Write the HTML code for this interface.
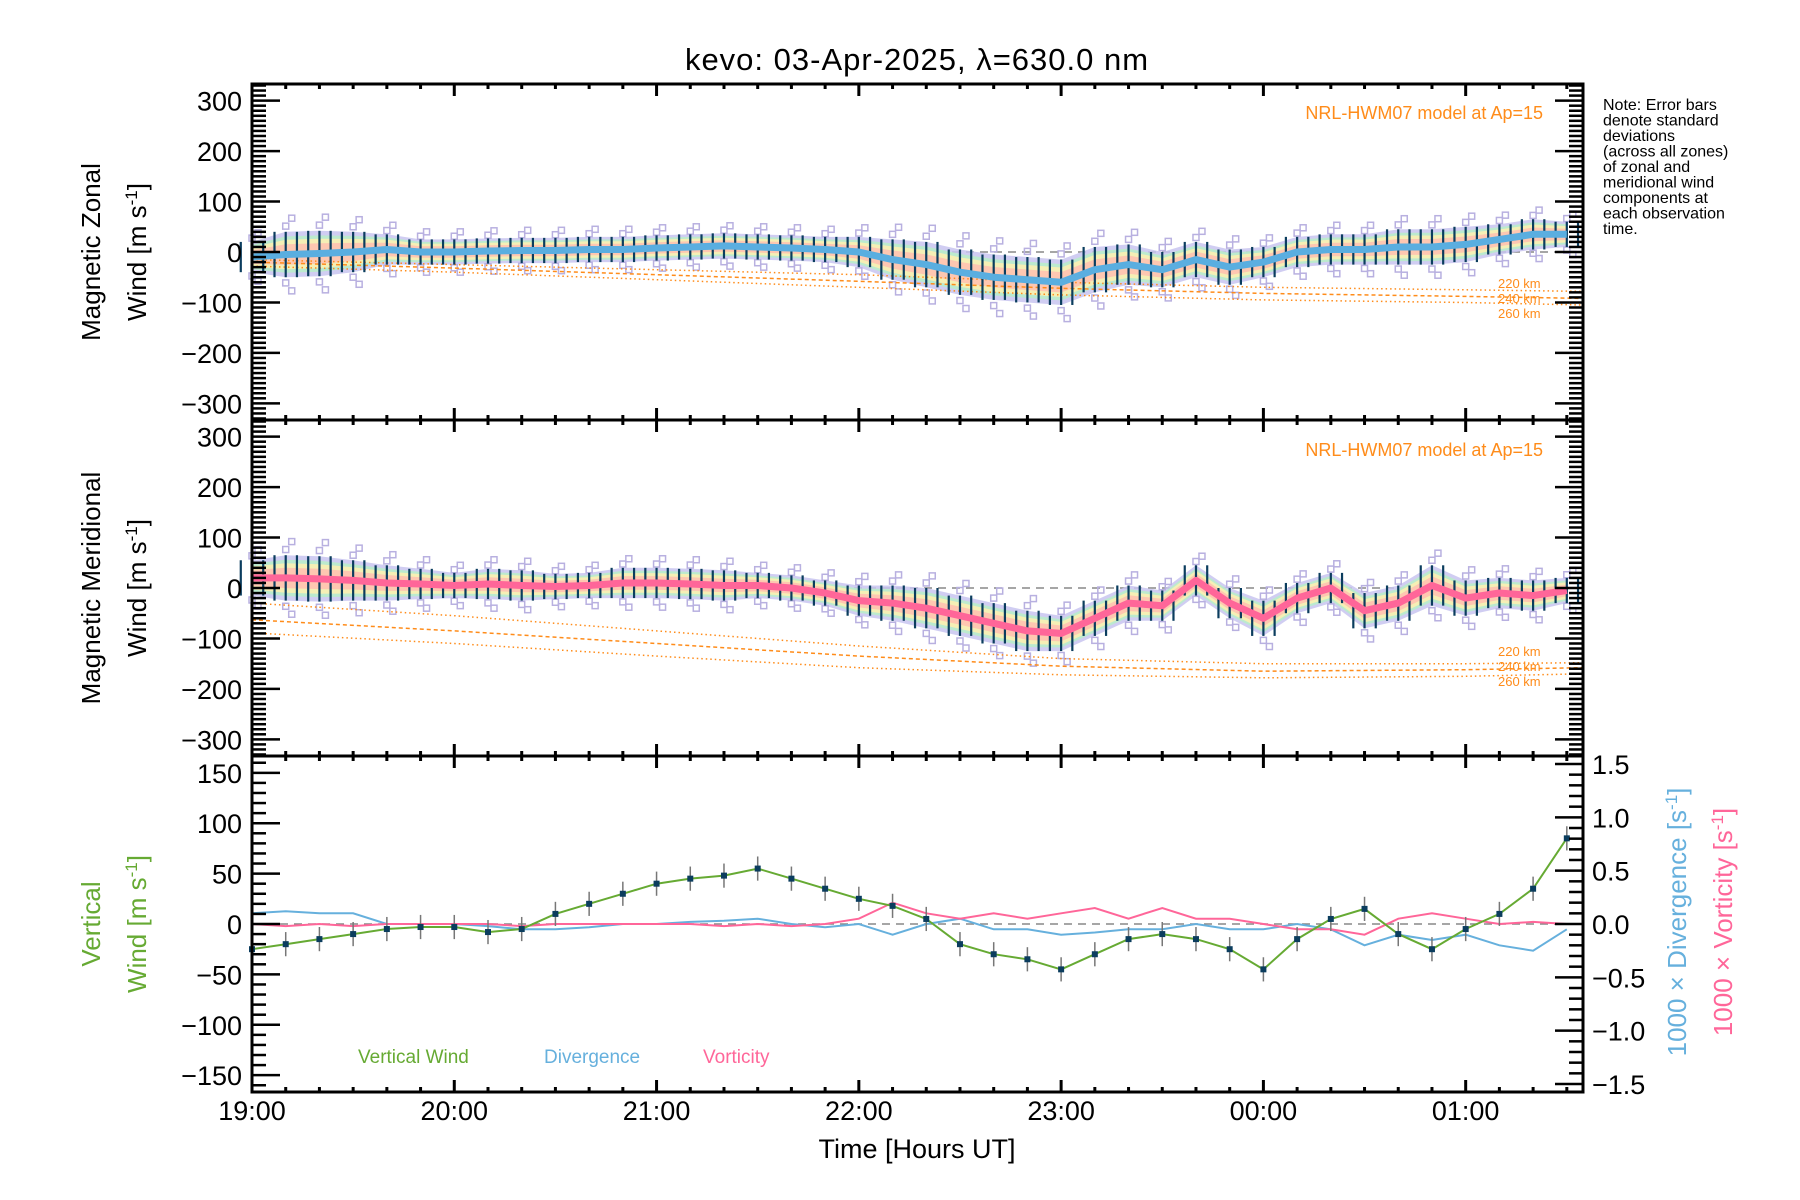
<!DOCTYPE html>
<html><head><meta charset="utf-8"><style>
html,body{margin:0;padding:0;background:#fff;}
svg{display:block;font-family:"Liberation Sans",sans-serif;}
</style></head><body>
<svg id="chart" xmlns="http://www.w3.org/2000/svg" width="1800" height="1200" viewBox="0 0 1800 1200">
<rect x="0" y="0" width="1800" height="1200" fill="#fff"/>
<text x="917" y="70" font-size="31" text-anchor="middle" letter-spacing="1">kevo: 03-Apr-2025, λ=630.0 nm</text>
<g id="p1"></g>
<g id="p2"></g>
<g id="p3"></g>
<g id="axes"></g>
<text transform="translate(100,252) rotate(-90)" font-size="26" text-anchor="middle">Magnetic Zonal</text>
<text transform="translate(146,252) rotate(-90)" font-size="26" text-anchor="middle">Wind [m s<tspan baseline-shift="super" font-size="17">-1</tspan>]</text>
<text transform="translate(100,588) rotate(-90)" font-size="26" text-anchor="middle">Magnetic Meridional</text>
<text transform="translate(146,588) rotate(-90)" font-size="26" text-anchor="middle">Wind [m s<tspan baseline-shift="super" font-size="17">-1</tspan>]</text>
<text transform="translate(100,924) rotate(-90)" font-size="26" text-anchor="middle" fill="#66aa33">Vertical</text>
<text transform="translate(146,924) rotate(-90)" font-size="26" text-anchor="middle" fill="#66aa33">Wind [m s<tspan baseline-shift="super" font-size="17">-1</tspan>]</text>
<text transform="translate(1686,922) rotate(-90)" font-size="26" text-anchor="middle" fill="#66b0dd">1000 × Divergence [s<tspan baseline-shift="super" font-size="17">-1</tspan>]</text>
<text transform="translate(1732,922) rotate(-90)" font-size="26" text-anchor="middle" fill="#ff6699">1000 × Vorticity [s<tspan baseline-shift="super" font-size="17">-1</tspan>]</text>
<text x="917" y="1158" font-size="27" text-anchor="middle">Time [Hours UT]</text>
<text x="1543" y="119" font-size="18" text-anchor="end" fill="#ff8c1a">NRL-HWM07 model at Ap=15</text>
<text x="1543" y="456" font-size="18" text-anchor="end" fill="#ff8c1a">NRL-HWM07 model at Ap=15</text>
<g font-size="13" fill="#ff8c1a">
<text x="1498" y="288">220 km</text><text x="1498" y="303">240 km</text><text x="1498" y="318">260 km</text>
<text x="1498" y="656">220 km</text><text x="1498" y="671">240 km</text><text x="1498" y="686">260 km</text>
</g>
<g font-size="16" fill="#000">
<text x="1603" y="110">Note: Error bars</text>
<text x="1603" y="125.5">denote standard</text>
<text x="1603" y="141">deviations</text>
<text x="1603" y="156.5">(across all zones)</text>
<text x="1603" y="172">of zonal and</text>
<text x="1603" y="187.5">meridional wind</text>
<text x="1603" y="203">components at</text>
<text x="1603" y="218.5">each observation</text>
<text x="1603" y="234">time.</text>
</g>
<g font-size="19">
<text x="358" y="1063" fill="#66aa33">Vertical Wind</text>
<text x="544" y="1063" fill="#66b0dd">Divergence</text>
<text x="703" y="1063" fill="#ff6699">Vorticity</text>
</g>
</svg>
<script>
// ---- data (10-minute samples from 19:00 UT, hours since 19:00) ----
const times = [0,0.1667,0.3333,0.5,0.6667,0.8333,1,1.1667,1.3333,1.5,1.6667,1.8333,2,2.1667,2.3333,2.5,2.6667,2.8333,3,3.1667,3.3333,3.5,3.6667,3.8333,4,4.1667,4.3333,4.5,4.6667,4.8333,5,5.1667,5.3333,5.5,5.6667,5.8333,6,6.1667,6.3333,6.5];
const zonalMean = [-10,-5,-3,0,5,0,0,2,3,3,5,5,8,10,12,10,8,5,0,-15,-25,-40,-50,-55,-60,-35,-25,-35,-15,-30,-20,0,5,5,10,10,15,25,35,35];
const zonalStd  = [30,45,45,40,30,25,25,25,25,25,25,25,25,25,25,25,25,25,30,40,45,45,45,45,45,45,40,35,35,35,30,30,30,30,35,35,35,30,30,25];
const meridMean = [20,20,18,15,10,8,5,8,5,3,5,10,10,8,5,5,0,-10,-25,-30,-40,-55,-70,-85,-90,-60,-30,-35,15,-30,-60,-20,0,-45,-30,5,-20,-10,-15,-5];
const meridStd  = [35,45,45,40,35,30,25,30,30,25,25,30,30,30,30,25,25,25,30,35,40,40,40,40,35,35,35,30,30,30,35,30,30,35,35,40,35,30,30,25];
const hwmTimes = [0,1,2,3,4,5,6,6.58];
const hwmZonal220 = [-15,-25,-35,-45,-60,-70,-75,-78];
const hwmZonal240 = [-20,-32,-45,-58,-72,-82,-88,-92];
const hwmZonal260 = [-28,-40,-55,-70,-85,-95,-100,-105];
const hwmMerid220 = [-30,-55,-85,-115,-140,-150,-150,-148];
const hwmMerid240 = [-63,-85,-110,-135,-155,-165,-162,-158];
const hwmMerid260 = [-89,-110,-135,-158,-172,-178,-175,-170];
const vertWind = [-25,-20,-15,-10,-5,-3,-3,-8,-5,10,20,30,40,45,48,55,45,35,25,18,5,-20,-30,-35,-45,-30,-15,-10,-15,-25,-45,-15,5,15,-10,-25,-5,10,35,85];
const divergence = [0.1,0.12,0.1,0.1,0,0,0,-0.02,-0.05,-0.05,-0.03,0,0,0.02,0.03,0.05,0,-0.03,0,-0.1,0,0.05,-0.05,-0.05,-0.1,-0.08,-0.05,-0.05,0,-0.05,-0.05,0,-0.05,-0.2,-0.1,-0.15,-0.1,-0.2,-0.25,-0.05];
const vorticity = [0,-0.02,0,-0.02,0,0,0,0,-0.02,0,0,0,0,0,-0.02,0,-0.02,0,0.05,0.2,0.1,0.05,0.1,0.05,0.1,0.15,0.05,0.15,0.05,0.05,0,-0.05,-0.05,-0.1,0.05,0.1,0.05,0,0.02,0];
const xTickLabels = ["19:00","20:00","21:00","22:00","23:00","00:00","01:00"];
const windTicks = [-300,-200,-100,0,100,200,300];
const vertTicks = [-150,-100,-50,0,50,100,150];
const rightTicks = [-1.5,-1.0,-0.5,0.0,0.5,1.0,1.5];

const NS="http://www.w3.org/2000/svg";
const L=252,R=1583,TMAX=6.58;
const X=t=>L+(R-L)*t/TMAX;
const panels=[{top:84,bot:420,max:333},{top:420,bot:756,max:333},{top:756,bot:1092,max:166.7}];
const Y=(p,v)=>{const P=panels[p];const c=(P.top+P.bot)/2;return c-v/P.max*(P.bot-P.top)/2;};
const YR=v=>924-v/1.5*160;
function mk(tag,attrs,parent){const e=document.createElementNS(NS,tag);for(const k in attrs)e.setAttribute(k,attrs[k]);parent.appendChild(e);return e;}
function pts(ts,vs,f){return ts.map((t,i)=>X(t).toFixed(1)+','+f(vs[i]).toFixed(1)).join(' ');}

function windPanel(gid,p,mean,std,c220,c240,c260,lineColor){
  const g=document.getElementById(gid);
  const z=mk('line',{x1:L,x2:R,y1:Y(p,0),y2:Y(p,0),stroke:'#888','stroke-width':1.5,'stroke-dasharray':'8,6'},g);
  
  
  const bands=[[1.0,'#c8c4f0'],[0.8,'#b8eec8'],[0.65,'#fff0b0'],[0.45,'#ffc0b0']];
  bands.forEach(b=>{
    const up=times.map((t,i)=>X(t).toFixed(1)+','+Y(p,mean[i]+std[i]*b[0]).toFixed(1));
    const dn=times.map((t,i)=>X(t).toFixed(1)+','+Y(p,mean[i]-std[i]*b[0]).toFixed(1)).reverse();
    const e=mk('polygon',{points:up.concat(dn).join(' '),fill:b[1],opacity:0.85},g);
    
    
  });
  times.forEach((t,i)=>{
    [1.25,1.6,-1.25,-1.6].forEach((k,j)=>{
      const e=mk('rect',{x:X(t)-3+(j%2)*6,y:Y(p,mean[i]+std[i]*k)-3,width:6,height:6,fill:'none',stroke:'#b8b0e0','stroke-width':1.5},g);
      
      
    });
  });
  [c220,c240,c260].forEach((c,j)=>{
    const e=mk('polyline',{points:pts(hwmTimes,c,v=>Y(p,v)),fill:'none',stroke:'#ff8c1a','stroke-width':1.5,'stroke-dasharray':j==1?'4,3':'1.5,3'},g);
    
    
  });
  times.forEach((t,i)=>{
    [-0.33,0,0.33].forEach(dx=>{
      const e=mk('line',{x1:X(t)+dx*34,x2:X(t)+dx*34,y1:Y(p,mean[i]+std[i]),y2:Y(p,mean[i]-std[i]),stroke:'#0b3d5e','stroke-width':2.2},g);
      
      
    });
  });
  const m=mk('polyline',{points:pts(times,mean,v=>Y(p,v)),fill:'none',stroke:lineColor,'stroke-width':7,'stroke-linejoin':'round'},g);
  
  
}
windPanel('p1',0,zonalMean,zonalStd,hwmZonal220,hwmZonal240,hwmZonal260,'#5aaee0');
windPanel('p2',1,meridMean,meridStd,hwmMerid220,hwmMerid240,hwmMerid260,'#ff6699');

(function(){
  const g=document.getElementById('p3');
  const z=mk('line',{x1:L,x2:R,y1:Y(2,0),y2:Y(2,0),stroke:'#888','stroke-width':1.5,'stroke-dasharray':'8,6'},g);
  
  
  const d=mk('polyline',{points:pts(times,divergence,YR),fill:'none',stroke:'#66b0dd','stroke-width':2},g);
  
  
  const v=mk('polyline',{points:pts(times,vorticity,YR),fill:'none',stroke:'#ff6699','stroke-width':2},g);
  
  
  times.forEach((t,i)=>{
    const e=mk('line',{x1:X(t),x2:X(t),y1:Y(2,vertWind[i]+12),y2:Y(2,vertWind[i]-12),stroke:'#777','stroke-width':1.5},g);
    
    
  });
  const w=mk('polyline',{points:pts(times,vertWind,v=>Y(2,v)),fill:'none',stroke:'#66aa33','stroke-width':2},g);
  
  
  times.forEach((t,i)=>{
    const e=mk('rect',{x:X(t)-3,y:Y(2,vertWind[i])-3,width:6,height:6,fill:'#0b3d5e'},g);
    
    
  });
})();

(function(){
  const g=document.getElementById('axes');
  panels.forEach((P,p)=>{
    const fr=mk('rect',{x:L,y:P.top,width:R-L,height:P.bot-P.top,fill:'none',stroke:'#000','stroke-width':3},g);
    
    
    for(let m=0;m<=Math.floor(TMAX*6);m++){
      const x=X(m/6),len=(m%6==0)?12:5;
      mk('line',{x1:x,x2:x,y1:P.bot,y2:P.bot-len,stroke:'#000','stroke-width':3},g);
      mk('line',{x1:x,x2:x,y1:P.top,y2:P.top+len,stroke:'#000','stroke-width':3},g);
    }
    const ticks=p<2?windTicks:vertTicks;
    const step=10,mx=p<2?330:160;
    for(let v=-mx;v<=mx;v+=step){
      const y=Y(p,v),major=ticks.indexOf(v)>=0,len=major?28:14;
      mk('line',{x1:L,x2:L+len,y1:y,y2:y,stroke:'#000','stroke-width':2.5},g);
      if(p<2) mk('line',{x1:R,x2:R-len,y1:y,y2:y,stroke:'#000','stroke-width':2.5},g);
    }
    ticks.forEach(v=>{
      const t=mk('text',{x:L-10,y:Y(p,v)+10,'font-size':27,'text-anchor':'end'},g);
      t.textContent=(v<0?'−':'')+Math.abs(v);
      
      
    });
  });
  for(let v=-1.5;v<=1.5001;v+=0.1){
    const y=YR(v),major=Math.abs(v*2-Math.round(v*2))<0.01,len=major?28:14;
    mk('line',{x1:R,x2:R-len,y1:y,y2:y,stroke:'#000','stroke-width':2.5},g);
  }
  rightTicks.forEach(v=>{
    const t=mk('text',{x:R+9,y:YR(v)+10,'font-size':27},g);
    t.textContent=(v<0?'−':'')+Math.abs(v).toFixed(1);
    
    
  });
  xTickLabels.forEach((s,i)=>{
    const t=mk('text',{x:X(i),y:1120,'font-size':27,'text-anchor':'middle'},g);
    t.textContent=s;
    
    
  });
})();
</script>
</body></html>
